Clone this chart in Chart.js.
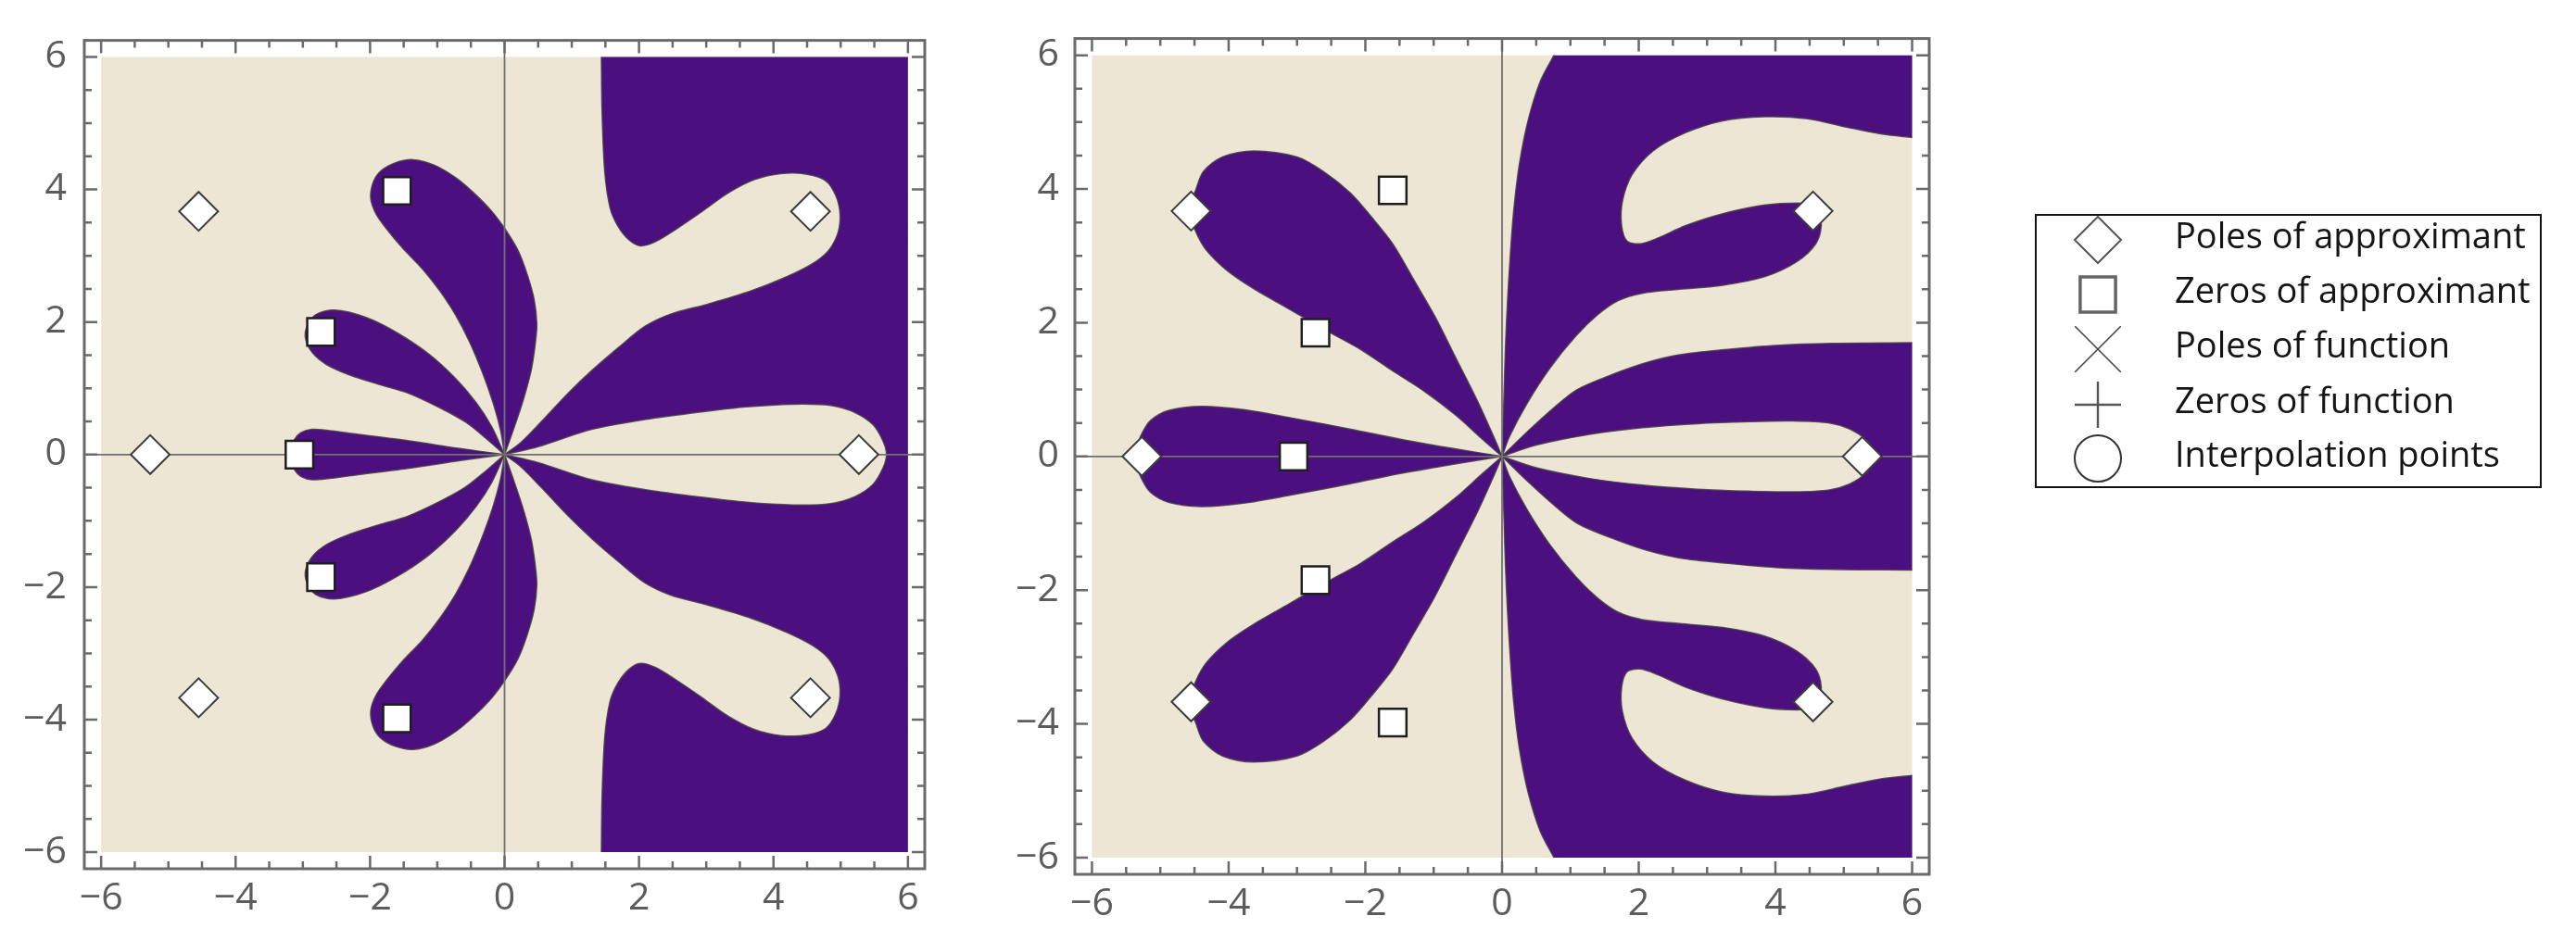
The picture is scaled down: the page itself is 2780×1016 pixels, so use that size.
<!DOCTYPE html>
<html>
<head>
<meta charset="utf-8">
<title>Poles and zeros of approximant</title>
<script src="https://cdn.jsdelivr.net/npm/chart.js@4.4.0/dist/chart.umd.min.js"></script>
<style>
  body { margin: 0; background: #fff; }
  #wrap { position: relative; width: 2780px; height: 1016px; }
  canvas { position: absolute; top: 0; }
</style>
</head>
<body>
<div id="wrap">
  <canvas id="leftPlot" width="1090" height="1016" style="left:0"></canvas>
  <canvas id="rightPlot" width="1690" height="1016" style="left:1090px"></canvas>
</div>
<script>
// axis ticks (labelled) and legend entries
const tickValues = [-6, -4, -2, 0, 2, 4, 6];
const legendLabels = ['Poles of approximant', 'Zeros of approximant', 'Poles of function', 'Zeros of function', 'Interpolation points'];
const legendStyles = ['rectRot', 'rect', 'crossRot', 'cross', 'circle'];

// markers (same in both panels)
const polesX = [-4.55, -5.27, -4.55, 4.55, 5.27, 4.55];
const polesY = [3.67, 0, -3.67, 3.67, 0, -3.67];
const zerosX = [-1.6, -2.73, -3.05, -2.73, -1.6];
const zerosY = [3.98, 1.85, 0, -1.85, -3.98];

// region plotted (the square)
const plotSquare = [[-6, -6], [6, -6], [6, 6], [-6, 6], [-6, -6]];

// ---- left panel, purple regions ----
const lpPetalTop = [[0,0],[0.13,0.37],[0.28,0.83],[0.40,1.29],[0.46,1.70],[0.48,1.97],[0.44,2.34],[0.34,2.71],[0.20,3.08],[0.01,3.40],[-0.19,3.67],[-0.46,3.95],[-0.73,4.18],[-1.05,4.37],[-1.36,4.45],[-1.63,4.40],[-1.85,4.27],[-1.96,4.09],[-1.99,3.86],[-1.91,3.63],[-1.75,3.40],[-1.52,3.12],[-1.22,2.80],[-0.97,2.48],[-0.73,2.11],[-0.52,1.70],[-0.33,1.24],[-0.17,0.78],[-0.06,0.37],[0,0]];
const lpPetalBottom = [[0,0],[0.13,-0.37],[0.28,-0.83],[0.40,-1.29],[0.46,-1.70],[0.48,-1.97],[0.44,-2.34],[0.34,-2.71],[0.20,-3.08],[0.01,-3.40],[-0.19,-3.67],[-0.46,-3.95],[-0.73,-4.18],[-1.05,-4.37],[-1.36,-4.45],[-1.63,-4.40],[-1.85,-4.27],[-1.96,-4.09],[-1.99,-3.86],[-1.91,-3.63],[-1.75,-3.40],[-1.52,-3.12],[-1.22,-2.80],[-0.97,-2.48],[-0.73,-2.11],[-0.52,-1.70],[-0.33,-1.24],[-0.17,-0.78],[-0.06,-0.37],[0,0]];
const lpPetalMidTop = [[0,0],[-0.19,0.42],[-0.42,0.78],[-0.73,1.15],[-1.13,1.52],[-1.60,1.84],[-2.06,2.07],[-2.53,2.18],[-2.81,2.11],[-2.94,1.93],[-2.96,1.75],[-2.86,1.54],[-2.65,1.36],[-2.30,1.20],[-1.87,1.06],[-1.44,0.93],[-0.97,0.71],[-0.58,0.49],[-0.27,0.24],[0,0]];
const lpPetalMidBottom = [[0,0],[-0.19,-0.42],[-0.42,-0.78],[-0.73,-1.15],[-1.13,-1.52],[-1.60,-1.84],[-2.06,-2.07],[-2.53,-2.18],[-2.81,-2.11],[-2.94,-1.93],[-2.96,-1.75],[-2.86,-1.54],[-2.65,-1.36],[-2.30,-1.20],[-1.87,-1.06],[-1.44,-0.93],[-0.97,-0.71],[-0.58,-0.49],[-0.27,-0.24],[0,0]];
const lpPetalLeft = [[0,0],[-0.66,0.09],[-1.44,0.21],[-2.22,0.31],[-2.6,0.36],[-2.86,0.38],[-3.03,0.33],[-3.13,0.22],[-3.17,0.1],[-3.18,0],[-3.17,-0.1],[-3.13,-0.22],[-3.03,-0.33],[-2.86,-0.38],[-2.6,-0.36],[-2.22,-0.31],[-1.44,-0.21],[-0.66,-0.09],[0,0]];
const lpRightEdge = [[1.44,6],[1.45,5.19],[1.49,4.27],[1.57,3.72],[1.69,3.44],[1.85,3.24],[2.02,3.15],[2.24,3.21],[2.55,3.40],[2.94,3.67],[3.33,3.95],[3.72,4.15],[4.11,4.24],[4.50,4.23],[4.78,4.13],[4.93,3.90],[4.99,3.63],[4.96,3.35],[4.82,3.08],[4.58,2.88],[4.19,2.68],[3.64,2.46],[3.02,2.27],[2.47,2.12],[2.08,1.93],[1.70,1.62],[1.30,1.27],[0.95,0.93],[0.55,0.50],[0.25,0.19],[0,0],[0,0],[0.25,-0.19],[0.55,-0.50],[0.95,-0.93],[1.30,-1.27],[1.70,-1.62],[2.08,-1.93],[2.47,-2.12],[3.02,-2.27],[3.64,-2.46],[4.19,-2.68],[4.58,-2.88],[4.82,-3.08],[4.96,-3.35],[4.99,-3.63],[4.93,-3.90],[4.78,-4.13],[4.50,-4.23],[4.11,-4.24],[3.72,-4.15],[3.33,-3.95],[2.94,-3.67],[2.55,-3.40],[2.24,-3.21],[2.02,-3.15],[1.85,-3.24],[1.69,-3.44],[1.57,-3.72],[1.49,-4.27],[1.45,-5.19],[1.44,-6]];
const lpRightCorners = [[1.44,-6],[6,-6],[6,-6],[6,6],[6,6],[1.44,6]];
// left panel, beige lobe on the real axis
const lpLobe = [[0,0],[0.5,0.12],[1.3,0.38],[2.1,0.53],[2.9,0.64],[3.6,0.72],[4.3,0.76],[4.85,0.74],[5.22,0.63],[5.48,0.45],[5.63,0.2],[5.68,0],[5.63,-0.2],[5.48,-0.45],[5.22,-0.63],[4.85,-0.74],[4.3,-0.76],[3.6,-0.72],[2.9,-0.64],[2.1,-0.53],[1.3,-0.38],[0.5,-0.12],[0,0]];

// ---- right panel, purple regions ----
const rpPetalTop = [[0,0],[-0.12,0.29],[-0.36,0.83],[-0.67,1.46],[-0.98,2.09],[-1.29,2.64],[-1.60,3.18],[-1.91,3.58],[-2.22,3.94],[-2.61,4.26],[-3.00,4.48],[-3.63,4.57],[-4.09,4.48],[-4.37,4.26],[-4.48,3.99],[-4.58,3.68],[-4.48,3.36],[-4.33,3.09],[-4.01,2.77],[-3.62,2.50],[-3.16,2.23],[-2.77,2.00],[-2.46,1.82],[-2.07,1.60],[-1.60,1.28],[-1.13,0.97],[-0.67,0.61],[-0.28,0.25],[0,0]];
const rpPetalBottom = [[0,0],[-0.12,-0.29],[-0.36,-0.83],[-0.67,-1.46],[-0.98,-2.09],[-1.29,-2.64],[-1.60,-3.18],[-1.91,-3.58],[-2.22,-3.94],[-2.61,-4.26],[-3.00,-4.48],[-3.63,-4.57],[-4.09,-4.48],[-4.37,-4.26],[-4.48,-3.99],[-4.58,-3.68],[-4.48,-3.36],[-4.33,-3.09],[-4.01,-2.77],[-3.62,-2.50],[-3.16,-2.23],[-2.77,-2.00],[-2.46,-1.82],[-2.07,-1.60],[-1.60,-1.28],[-1.13,-0.97],[-0.67,-0.61],[-0.28,-0.25],[0,0]];
const rpPetalLeft = [[0,0],[-0.67,0.11],[-1.45,0.25],[-2.23,0.41],[-3.0,0.56],[-3.78,0.70],[-4.40,0.75],[-4.87,0.69],[-5.14,0.54],[-5.28,0.32],[-5.34,0.12],[-5.35,0],[-5.34,-0.12],[-5.28,-0.32],[-5.14,-0.54],[-4.87,-0.69],[-4.40,-0.75],[-3.78,-0.70],[-3.0,-0.56],[-2.23,-0.41],[-1.45,-0.25],[-0.67,-0.11],[0,0]];
const rpUpperEdge = [[0.76,6],[0.56,5.61],[0.38,5.02],[0.25,4.35],[0.17,3.67],[0.12,3.0],[0.08,2.32],[0.05,1.64],[0.03,0.97],[0.01,0.29],[0,0],[0,0],[0.11,0.3],[0.37,0.8],[0.7,1.32],[1.08,1.8],[1.4,2.12],[1.7,2.33],[2.05,2.44],[2.6,2.5],[3.23,2.56],[3.85,2.69],[4.31,2.91],[4.59,3.18],[4.67,3.45],[4.62,3.65],[4.5,3.76],[4.32,3.79],[3.85,3.76],[3.23,3.63],[2.68,3.45],[2.29,3.27],[2.02,3.18],[1.83,3.22],[1.75,3.45],[1.76,3.81],[1.90,4.21],[2.21,4.57],[2.68,4.84],[3.23,5.02],[3.85,5.08],[4.47,5.05],[5.02,4.93],[5.56,4.82],[6,4.77]];
const rpUpperCorners = [[6,4.77],[6,6],[6,6],[0.76,6]];
const rpLowerEdge = [[0.76,-6],[0.56,-5.61],[0.38,-5.02],[0.25,-4.35],[0.17,-3.67],[0.12,-3.0],[0.08,-2.32],[0.05,-1.64],[0.03,-0.97],[0.01,-0.29],[0,0],[0,0],[0.11,-0.3],[0.37,-0.8],[0.7,-1.32],[1.08,-1.8],[1.4,-2.12],[1.7,-2.33],[2.05,-2.44],[2.6,-2.5],[3.23,-2.56],[3.85,-2.69],[4.31,-2.91],[4.59,-3.18],[4.67,-3.45],[4.62,-3.65],[4.5,-3.76],[4.32,-3.79],[3.85,-3.76],[3.23,-3.63],[2.68,-3.45],[2.29,-3.27],[2.02,-3.18],[1.83,-3.22],[1.75,-3.45],[1.76,-3.81],[1.90,-4.21],[2.21,-4.57],[2.68,-4.84],[3.23,-5.02],[3.85,-5.08],[4.47,-5.05],[5.02,-4.93],[5.56,-4.82],[6,-4.77]];
const rpLowerCorners = [[6,-4.77],[6,-6],[6,-6],[0.76,-6]];
const rpBandEdge = [[6,1.7],[4.8,1.69],[4.0,1.66],[3.3,1.6],[2.6,1.52],[2.1,1.4],[1.6,1.22],[1.1,1.0],[0.75,0.72],[0.35,0.35],[0,0],[0,0],[0.35,-0.35],[0.75,-0.72],[1.1,-1.0],[1.6,-1.22],[2.1,-1.4],[2.6,-1.52],[3.3,-1.6],[4.0,-1.66],[4.8,-1.69],[6,-1.7]];
const rpBandCorners = [[6,-1.7],[6,1.7]];
// right panel, beige lobe on the real axis
const rpLobe = [[0,0],[0.5,0.17],[1.28,0.33],[2.06,0.43],[2.86,0.49],[3.62,0.52],[4.24,0.53],[4.79,0.5],[5.09,0.41],[5.33,0.25],[5.43,0.1],[5.45,0],[5.43,-0.1],[5.33,-0.25],[5.09,-0.41],[4.79,-0.5],[4.24,-0.53],[3.62,-0.52],[2.86,-0.49],[2.06,-0.43],[1.28,-0.33],[0.5,-0.17],[0,0]];

const PURPLE = '#4b0f80';
const BEIGE = '#eee6d4';
const EDGE = 'rgba(70,58,72,0.85)';
const FRAME = '#6a6a6a';
const FONT = 'Open Sans';

const pts = arr => arr.map(([x, y]) => ({ x, y }));

function area(points, color, order, border, tension = 0.3) {
    return {
        data: pts(points), showLine: true, fill: 'shape', backgroundColor: color,
        borderColor: border ? EDGE : 'rgba(0,0,0,0)', borderWidth: border ? 1.5 : 1,
        pointRadius: 0, pointHoverRadius: 0, pointHitRadius: 0, tension, order
    };
}

function edge(points, order) {
    return {
        data: pts(points), showLine: true, fill: false, borderColor: EDGE, borderWidth: 1.5,
        pointRadius: 0, pointHoverRadius: 0, pointHitRadius: 0, tension: 0.3, order
    };
}

function markerSet(xs, ys, style, border, width, order, extra) {
    return Object.assign({
        data: xs.map((x, i) => ({ x, y: ys[i] })), showLine: false,
        pointStyle: style, pointRadius: 21, pointHoverRadius: 21,
        backgroundColor: '#ffffff', borderColor: border, borderWidth: width, order
    }, extra || {});
}

// frame, inward ticks and the two coordinate axes
function drawAxisLines(chart) {
    const { ctx, chartArea: a, scales: { x, y } } = chart;
    ctx.save();
    ctx.strokeStyle = '#707070';
    ctx.lineWidth = 1.8;
    ctx.beginPath();
    const x0 = x.getPixelForValue(0), y0 = y.getPixelForValue(0);
    ctx.moveTo(x0, a.top); ctx.lineTo(x0, a.bottom);
    ctx.moveTo(a.left, y0); ctx.lineTo(a.right, y0);
    ctx.stroke();
    ctx.restore();
}

const framePlugin = {
    id: 'mmaFrame',
    beforeDatasetDraw(chart, args) {
        if (chart.data.datasets[args.index].axesBelow) drawAxisLines(chart);
    },
    afterDraw(chart) {
        const { ctx, chartArea: a, scales: { x, y } } = chart;
        ctx.save();
        ctx.strokeStyle = FRAME;
        ctx.lineWidth = 2.5;
        ctx.beginPath();
        for (let v = -6; v <= 6; v += 0.5) {
            const len = v % 2 === 0 ? 14 : 8;
            const px = x.getPixelForValue(v), py = y.getPixelForValue(v);
            ctx.moveTo(px, a.bottom); ctx.lineTo(px, a.bottom - len);
            ctx.moveTo(px, a.top); ctx.lineTo(px, a.top + len);
            ctx.moveTo(a.left, py); ctx.lineTo(a.left + len, py);
            ctx.moveTo(a.right, py); ctx.lineTo(a.right - len, py);
        }
        ctx.stroke();
        ctx.lineWidth = 3;
        ctx.strokeRect(a.left, a.top, a.right - a.left, a.bottom - a.top);
        ctx.restore();
    }
};

// legend box to the right of the second panel (canvas coordinates)
const LEG = { x: 1107, y: 232, w: 545, h: 294, symX: 1174, textX: 1257, rows: [259, 318, 377, 437, 495] };
const legendLook = [
    { r: 25, color: '#555', width: 2 },
    { r: 27, color: '#666', width: 3.5 },
    { r: 35, color: '#444', width: 1.6 },
    { r: 25, color: '#555', width: 2.4 },
    { r: 25, color: '#333', width: 2 }
];

const legendPlugin = {
    id: 'approxLegend',
    afterDraw(chart) {
        const ctx = chart.ctx;
        ctx.save();
        ctx.strokeStyle = '#111';
        ctx.lineWidth = 2;
        ctx.strokeRect(LEG.x, LEG.y, LEG.w, LEG.h);
        legendLabels.forEach((label, i) => {
            const cy = LEG.rows[i];
            const look = legendLook[i];
            ctx.fillStyle = '#ffffff';
            ctx.strokeStyle = look.color;
            ctx.lineWidth = look.width;
            Chart.helpers.drawPoint(ctx, { pointStyle: legendStyles[i], radius: look.r, borderWidth: look.width, rotation: 0 }, LEG.symX, cy);
            ctx.fillStyle = '#151515';
            ctx.font = `38px "${FONT}"`;
            ctx.textAlign = 'left';
            ctx.textBaseline = 'alphabetic';
            ctx.fillText(label, LEG.textX, cy + 9);
        });
        ctx.restore();
    }
};

function axis(isX, size, pad) {
    return {
        type: 'linear', min: -6.25, max: 6.25,
        grid: { display: false, drawTicks: false },
        border: { display: false },
        afterBuildTicks: ax => { ax.ticks = tickValues.map(v => ({ value: v })); },
        afterFit: ax => { if (isX) ax.height = size; else ax.width = size; },
        ticks: {
            padding: pad, color: '#5c5c5c', font: { family: FONT, size: 41 },
            maxRotation: 0, autoSkip: false,
            callback: v => (v < 0 ? '\u2212' + Math.abs(v) : String(v))
        }
    };
}

function makeChart(id, datasets, layout, extraPlugins) {
    return new Chart(document.getElementById(id), {
        type: 'scatter',
        data: { datasets },
        options: {
            responsive: false, animation: false, devicePixelRatio: 1,
            events: [],
            layout: { padding: layout.padding },
            plugins: { legend: { display: false }, tooltip: { enabled: false } },
            scales: { x: axis(true, layout.xh, 8), y: axis(false, layout.yw, layout.ypad) }
        },
        plugins: [framePlugin].concat(extraPlugins || [])
    });
}

function build() {
    const leftSets = [
        markerSet(polesX, polesY, 'rectRot', '#3c3c3c', 2, 1),
        markerSet(zerosX, zerosY, 'rect', '#1e1e1e', 2.5, 2, { axesBelow: true }),
        area(lpLobe, BEIGE, 40, true),
        area(lpPetalTop, PURPLE, 60, true),
        area(lpPetalBottom, PURPLE, 60, true),
        area(lpPetalMidTop, PURPLE, 60, true),
        area(lpPetalMidBottom, PURPLE, 60, true),
        area(lpPetalLeft, PURPLE, 60, true),
        edge(lpRightEdge, 55),
        area(lpRightEdge.concat(lpRightCorners), PURPLE, 65, false),
        area(plotSquare, BEIGE, 100, false, 0)
    ];
    makeChart('leftPlot', leftSets, { padding: { left: 0, top: 29, right: 92, bottom: 0 }, xh: 78, yw: 91, ypad: 19 });

    const rightSets = [
        markerSet(polesX, polesY, 'rectRot', '#3c3c3c', 2, 1),
        markerSet(zerosX, zerosY, 'rect', '#1e1e1e', 2.5, 2, { axesBelow: true }),
        area(rpLobe, BEIGE, 40, true),
        area(rpPetalTop, PURPLE, 60, true),
        area(rpPetalBottom, PURPLE, 60, true),
        area(rpPetalLeft, PURPLE, 60, true),
        edge(rpUpperEdge, 55),
        edge(rpLowerEdge, 55),
        edge(rpBandEdge, 55),
        area(rpUpperEdge.concat(rpUpperCorners), PURPLE, 65, false),
        area(rpLowerEdge.concat(rpLowerCorners), PURPLE, 65, false),
        area(rpBandEdge.concat(rpBandCorners), PURPLE, 65, false),
        area(plotSquare, BEIGE, 100, false, 0)
    ];
    makeChart('rightPlot', rightSets, { padding: { left: 0, top: 22, right: 698, bottom: 0 }, xh: 72, yw: 70, ypad: 17 }, [legendPlugin]);
}

document.fonts.load(`41px "${FONT}"`).catch(() => null).then(build);
</script>
</body>
</html>
